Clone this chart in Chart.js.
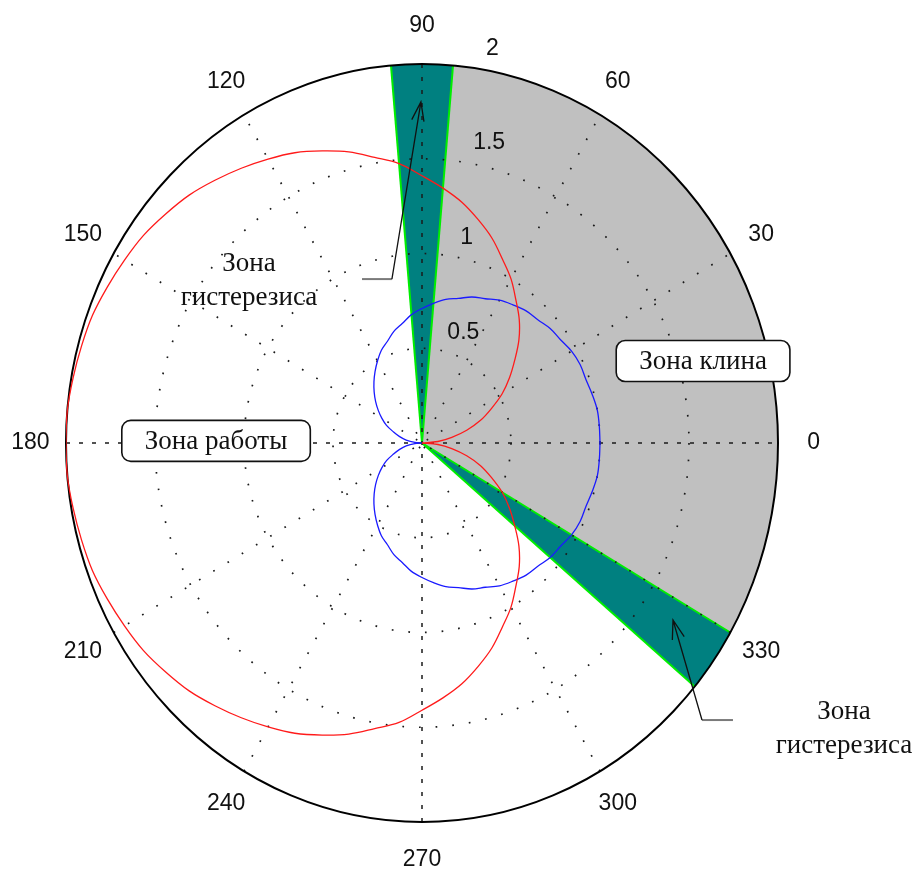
<!DOCTYPE html>
<html>
<head>
<meta charset="utf-8">
<script src="https://cdn.jsdelivr.net/npm/chart.js@4.4.1/dist/chart.umd.min.js"></script>
<style>
  html, body { margin: 0; padding: 0; background: #ffffff; }
  canvas { display: block; }
</style>
</head>
<body>
<canvas id="polar" width="918" height="870"></canvas>
<script>
// Sample angles of both curves, degrees (0..360, 5° step)
const thetaDeg = Array.from({ length: 73 }, (_, i) => i * 5);

// Red curve radius at each angle
const redR = [
  0.00, 0.09, 0.17, 0.26, 0.35, 0.43, 0.52, 0.60, 0.68, 0.77, 0.85, 0.92,
  1.00, 1.07, 1.15, 1.22, 1.29, 1.35, 1.41, 1.48, 1.53, 1.59, 1.64, 1.69,
  1.73, 1.77, 1.81, 1.85, 1.88, 1.91, 1.93, 1.95, 1.97, 1.98, 1.99, 2.00,
  2.00,
  2.00, 1.99, 1.98, 1.97, 1.95, 1.93, 1.91, 1.88, 1.85, 1.81, 1.77, 1.73,
  1.69, 1.64, 1.59, 1.53, 1.48, 1.41, 1.35, 1.29, 1.22, 1.15, 1.07, 1.00,
  0.92, 0.85, 0.77, 0.68, 0.60, 0.52, 0.43, 0.35, 0.26, 0.17, 0.09, 0.00
];

// Blue curve radius at each angle
const blueR = [
  1.00, 1.00, 1.00, 0.99, 0.98, 0.98, 0.97, 0.95, 0.94, 0.92, 0.91, 0.89,
  0.87, 0.84, 0.82, 0.79, 0.77, 0.74, 0.71, 0.68, 0.64, 0.61, 0.57, 0.54,
  0.50, 0.46, 0.42, 0.38, 0.34, 0.30, 0.26, 0.22, 0.17, 0.13, 0.09, 0.04,
  0.00,
  0.04, 0.09, 0.13, 0.17, 0.22, 0.26, 0.30, 0.34, 0.38, 0.42, 0.46, 0.50,
  0.54, 0.57, 0.61, 0.64, 0.68, 0.71, 0.74, 0.77, 0.79, 0.82, 0.84, 0.87,
  0.89, 0.91, 0.92, 0.94, 0.95, 0.97, 0.98, 0.98, 0.99, 1.00, 1.00, 1.00
];

// Polar grid
const angleTicks = [0, 30, 60, 90, 120, 150, 180, 210, 240, 270, 300, 330];
const angleTickLabels = ['0', '30', '60', '90', '120', '150', '180', '210', '240', '270', '300', '330'];
const radialTicks = [0.5, 1, 1.5, 2];
const radialTickLabels = ['0.5', '1', '1.5', '2'];
const rMax = 2;

// Angular zones, degrees
const zoneStart = [-30, 85, -40];
const zoneEnd = [85, 95, -30];
const zoneKind = ['wedge', 'hysteresis', 'hysteresis'];

// Text labels
const workLabel = 'Зона работы';
const wedgeLabel = 'Зона клина';
const hystLabel = ['Зона', 'гистерезиса'];

const ZONE_STYLE = {
  wedge: { fill: '#c0c0c0', edge: null },
  hysteresis: { fill: '#008080', edge: '#00ee00' }
};
const NUM_FONT = '23px "Liberation Sans", Arial, sans-serif';
const TXT_FONT = '27px "Liberation Serif", "Times New Roman", serif';

const rad = d => d * Math.PI / 180;
const toXY = (r, d) => ({ x: r * Math.cos(rad(d)), y: r * Math.sin(rad(d)) });

const redPoints = thetaDeg.map((t, i) => toXY(redR[i], t));
const bluePoints = thetaDeg.map((t, i) => toXY(blueR[i], t));

function pixelTools(chart) {
  const x = chart.scales.x, y = chart.scales.y;
  const px = (dx, dy) => [x.getPixelForValue(dx), y.getPixelForValue(dy)];
  const polar = (r, d) => px(r * Math.cos(rad(d)), r * Math.sin(rad(d)));
  const cx = x.getPixelForValue(0), cy = y.getPixelForValue(0);
  return { px, polar, cx, cy };
}

function roundedBox(ctx, x, y, w, h, r) {
  ctx.beginPath();
  ctx.moveTo(x + r, y);
  ctx.lineTo(x + w - r, y);
  ctx.arcTo(x + w, y, x + w, y + r, r);
  ctx.lineTo(x + w, y + h - r);
  ctx.arcTo(x + w, y + h, x + w - r, y + h, r);
  ctx.lineTo(x + r, y + h);
  ctx.arcTo(x, y + h, x, y + h - r, r);
  ctx.lineTo(x, y + r);
  ctx.arcTo(x, y, x + r, y, r);
  ctx.closePath();
}

function arrow(ctx, from, tip) {
  ctx.beginPath();
  ctx.moveTo(from[0], from[1]);
  ctx.lineTo(tip[0], tip[1]);
  const back = Math.atan2(from[1] - tip[1], from[0] - tip[0]);
  const len = 20, spread = rad(18);
  ctx.moveTo(tip[0] + len * Math.cos(back + spread), tip[1] + len * Math.sin(back + spread));
  ctx.lineTo(tip[0], tip[1]);
  ctx.lineTo(tip[0] + len * Math.cos(back - spread), tip[1] + len * Math.sin(back - spread));
  ctx.stroke();
}

const polarFrame = {
  id: 'polarFrame',
  beforeDatasetsDraw(chart) {
    const { ctx } = chart;
    const { px, polar, cx, cy } = pixelTools(chart);
    ctx.save();

    // zone sectors
    zoneStart.forEach((a0, i) => {
      const a1 = zoneEnd[i];
      const st = ZONE_STYLE[zoneKind[i]];
      ctx.beginPath();
      ctx.moveTo(cx, cy);
      for (let a = a0; a <= a1 + 1e-9; a += 0.5) {
        const [qx, qy] = polar(rMax, a);
        ctx.lineTo(qx, qy);
      }
      ctx.closePath();
      ctx.fillStyle = st.fill;
      ctx.fill();
    });
    zoneStart.forEach((a0, i) => {
      const st = ZONE_STYLE[zoneKind[i]];
      if (!st.edge) return;
      ctx.strokeStyle = st.edge;
      ctx.lineWidth = 2;
      [a0, zoneEnd[i]].forEach(a => {
        const [qx, qy] = polar(rMax, a);
        ctx.beginPath();
        ctx.moveTo(cx, cy);
        ctx.lineTo(qx, qy);
        ctx.stroke();
      });
    });

    // dotted rings
    const rx1 = px(1, 0)[0] - cx, ry1 = cy - px(0, 1)[1];
    ctx.strokeStyle = '#1a1a1a';
    ctx.lineWidth = 1.7;
    ctx.setLineDash([1.7, 15]);
    radialTicks.slice(0, -1).forEach(r => {
      ctx.beginPath();
      ctx.ellipse(cx, cy, rx1 * r, ry1 * r, 0, 0, Math.PI * 2);
      ctx.stroke();
    });

    // dotted spokes
    angleTicks.filter(a => a < 180).forEach(a => {
      const [x0, y0] = polar(rMax, a + 180);
      const [x1, y1] = polar(rMax, a);
      const axisLine = a % 90 === 0;
      ctx.setLineDash(axisLine ? [4, 9] : [1.7, 15]);
      ctx.lineWidth = axisLine ? 1.5 : 1.7;
      ctx.beginPath();
      ctx.moveTo(x0, y0);
      ctx.lineTo(x1, y1);
      ctx.stroke();
    });
    ctx.setLineDash([]);

    // outer circle
    ctx.strokeStyle = '#000';
    ctx.lineWidth = 2;
    ctx.beginPath();
    ctx.ellipse(cx, cy, rx1 * rMax, ry1 * rMax, 0, 0, Math.PI * 2);
    ctx.stroke();

    // angle labels
    ctx.fillStyle = '#111';
    ctx.font = NUM_FONT;
    ctx.textAlign = 'center';
    ctx.textBaseline = 'middle';
    angleTicks.forEach((a, i) => {
      const [lx, ly] = polar(rMax * 1.1, a);
      ctx.fillText(angleTickLabels[i], lx, ly);
    });

    // radius labels
    ctx.textAlign = 'left';
    ctx.textBaseline = 'alphabetic';
    radialTicks.forEach((r, i) => {
      const [lx, ly] = px(0.07 + 0.145 * r, r + 0.05);
      ctx.fillText(radialTickLabels[i], lx, ly);
    });
    ctx.restore();
  },
  afterDatasetsDraw(chart) {
    const { ctx } = chart;
    const { px } = pixelTools(chart);
    ctx.save();

    // leader lines with arrows to the hysteresis zones
    const leaders = [
      { tail: px(-0.337, 0.865), knee: px(-0.169, 0.865), tip: px(-0.006, 1.80) },
      { tail: px(1.747, -1.462), knee: px(1.573, -1.462), tip: px(1.410, -0.934) }
    ];
    leaders.forEach(l => {
      ctx.strokeStyle = '#7a7a7a';
      ctx.lineWidth = 2;
      ctx.beginPath();
      ctx.moveTo(l.tail[0], l.tail[1]);
      ctx.lineTo(l.knee[0], l.knee[1]);
      ctx.stroke();
      ctx.strokeStyle = '#111';
      ctx.lineWidth = 1.3;
      arrow(ctx, l.knee, l.tip);
    });

    ctx.font = TXT_FONT;
    ctx.fillStyle = '#111';
    ctx.textAlign = 'center';
    ctx.textBaseline = 'middle';

    // two-line hysteresis captions
    [px(-0.972, 0.855), px(2.371, -1.509)].forEach(([tx, ty]) => {
      ctx.fillText(hystLabel[0], tx, ty - 17);
      ctx.fillText(hystLabel[1], tx, ty + 17);
    });

    // boxed captions
    [[wedgeLabel, px(1.579, 0.433)], [workLabel, px(-1.157, 0.011)]].forEach(([text, [bx, by]]) => {
      const w = ctx.measureText(text).width + 46, h = 41;
      roundedBox(ctx, bx - w / 2, by - h / 2, w, h, 9);
      ctx.fillStyle = '#ffffff';
      ctx.fill();
      ctx.strokeStyle = '#111';
      ctx.lineWidth = 1.6;
      ctx.stroke();
      ctx.fillStyle = '#111';
      ctx.fillText(text, bx, by + 1);
    });
    ctx.restore();
  }
};

new Chart(document.getElementById('polar').getContext('2d'), {
  type: 'scatter',
  data: {
    datasets: [
      {
        label: 'red',
        data: redPoints,
        showLine: true,
        borderColor: '#ff1a1a',
        borderWidth: 1.3,
        pointRadius: 0,
        tension: 0.35,
        fill: false
      },
      {
        label: 'blue',
        data: bluePoints,
        showLine: true,
        borderColor: '#1a1aff',
        borderWidth: 1.3,
        pointRadius: 0,
        tension: 0.35,
        fill: false
      }
    ]
  },
  options: {
    responsive: false,
    animation: false,
    devicePixelRatio: 1,
    events: [],
    layout: { padding: { left: 66, right: 140, top: 64, bottom: 48 } },
    scales: {
      x: { type: 'linear', min: -2, max: 2, display: false },
      y: { type: 'linear', min: -2, max: 2, display: false }
    },
    plugins: {
      legend: { display: false },
      tooltip: { enabled: false }
    }
  },
  plugins: [polarFrame]
});
</script>
</body>
</html>
